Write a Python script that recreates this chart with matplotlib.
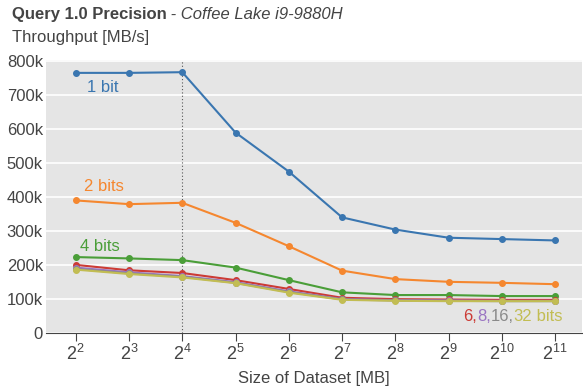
import matplotlib
matplotlib.use("Agg")
import matplotlib.pyplot as plt
from matplotlib.ticker import FuncFormatter

plt.rcParams['font.family'] = ['Liberation Sans', 'DejaVu Sans']
plt.rcParams['mathtext.fontset'] = 'custom'
plt.rcParams['mathtext.rm'] = 'Liberation Sans'
plt.rcParams['mathtext.it'] = 'Liberation Sans:italic'
plt.rcParams['mathtext.bf'] = 'Liberation Sans:bold'

exponents = [2, 3, 4, 5, 6, 7, 8, 9, 10, 11]
bits_1 = [766, 766, 768, 590, 475, 340, 304, 280, 276, 272]
bits_2 = [390, 379, 383, 324, 255, 183, 158, 150, 147, 143]
bits_4 = [223, 219, 214, 192, 155, 119, 111, 111, 108, 108]
bits_6 = [200, 184, 176, 155, 129, 103, 99, 98, 97, 97]
bits_8 = [192, 178, 167, 149, 122, 99, 96, 95, 94, 94]
bits_16 = [188, 175, 165, 147, 120, 98, 95, 94, 93, 93]
bits_32 = [186, 173, 163, 146, 118, 97, 94, 93, 93, 93]

series = [
    (bits_1, '#3a76b0'),
    (bits_2, '#f5872f'),
    (bits_4, '#4a9e38'),
    (bits_6, '#cc3b35'),
    (bits_8, '#9a74c2'),
    (bits_16, '#8a8a8a'),
    (bits_32, '#c2bd53'),
]

TXT = '#444444'

fig = plt.figure(figsize=(5.83, 3.87), dpi=100)
ax = fig.add_axes([0.0784, 0.1403, 0.9196, 0.7047])
ax.set_facecolor('#e5e5e5')

for vals, col in series:
    ax.plot(exponents, [v * 1000 for v in vals], color=col, lw=1.5,
            marker='o', ms=4, zorder=3)

ax.axvline(4, color='#555555', lw=0.8, ls=(0, (1, 2)), zorder=2)

ax.set_xlim(1.4375, 11.5)
ax.set_ylim(0, 804000)
ax.set_yticks([i * 100000 for i in range(9)])
ax.yaxis.set_major_formatter(FuncFormatter(lambda v, p: '0' if v == 0 else f'{int(v/1000)}k'))
ax.set_xticks(exponents)
ax.set_xticklabels([f'$\\mathrm{{2}}^{{\\mathrm{{{e}}}}}$' for e in exponents])
ax.grid(axis='y', color='white', lw=1.2)
ax.set_axisbelow(True)
for s in ['top', 'right', 'left']:
    ax.spines[s].set_visible(False)
ax.spines['bottom'].set_color(TXT)
ax.tick_params(axis='y', length=0, labelsize=12, colors=TXT, pad=2)
ax.tick_params(axis='x', length=6, labelsize=13, colors=TXT, pad=2)

ax.set_xlabel('Size of Dataset [MB]', fontsize=12, color=TXT, labelpad=5)

ax.text(2.51, 722000, '1 bit', color='#3a76b0', fontsize=12, ha='center', va='center')
ax.text(2.53, 430000, '2 bits', color='#f5872f', fontsize=12, ha='center', va='center')
ax.text(2.46, 253000, '4 bits', color='#4a9e38', fontsize=12, ha='center', va='center')

x0, y0 = 11.143, 49000
parts = [('6,', '#cc3b35'), ('8,', '#9a74c2'), ('16,', '#8a8a8a'), ('32', '#c2bd53'), (' bits', '#c2bd53')]
fig.canvas.draw()
renderer = fig.canvas.get_renderer()
widths = []
for s, c in parts:
    tt = ax.text(0, 0, s, fontsize=12)
    widths.append(tt.get_window_extent(renderer).width)
    tt.remove()
total = sum(widths)
xr_disp = ax.transData.transform((x0, y0))
xs = xr_disp[0] - total
for (s, c), w in zip(parts, widths):
    xd, yd = ax.transData.inverted().transform((xs, xr_disp[1]))
    ax.text(xd, yd, s, color=c, fontsize=12, ha='left', va='center')
    xs += w

t1 = fig.text(0.02, 0.962, 'Query 1.0 Precision', fontsize=12, fontweight='bold', color=TXT, va='center')
fig.canvas.draw()
bb = t1.get_window_extent(renderer)
fig.text(bb.x1 / fig.bbox.width, 0.962, ' - Coffee Lake i9-9880H', fontsize=12, style='italic', color=TXT, va='center')
fig.text(0.02, 0.904, 'Throughput [MB/s]', fontsize=12, color=TXT, va='center')

fig.savefig('out.png', dpi=100)
